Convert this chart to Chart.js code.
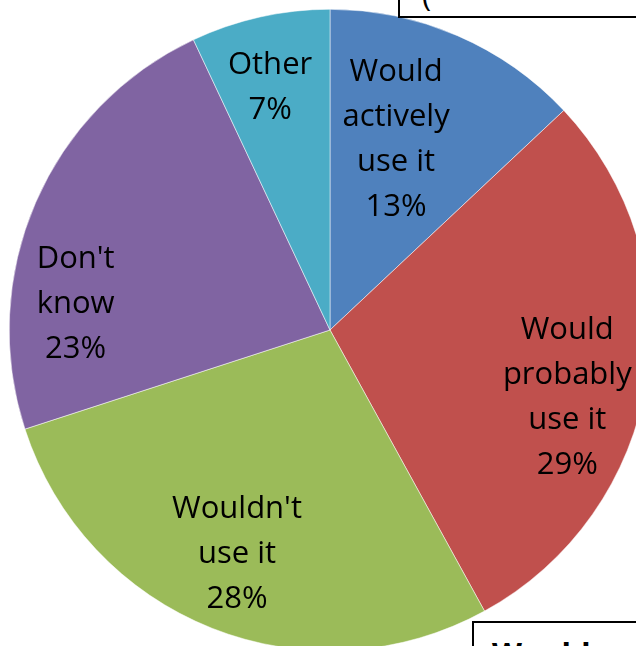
<!DOCTYPE html>
<html>
<head>
<meta charset="utf-8">
<script src="https://cdn.jsdelivr.net/npm/chart.js@4.4.1/dist/chart.umd.min.js"></script>
<style>
  html, body { margin: 0; padding: 0; background: #fff; }
  body { width: 636px; height: 646px; overflow: hidden; position: relative; font-family: "Open Sans", sans-serif; }
  #pie { position: absolute; left: 9px; top: 9px; }
  .box { position: absolute; background: #fff; border: 2px solid #000; box-sizing: border-box; overflow: hidden; z-index: 2; }
  #topBox { left: 398px; top: -50px; width: 260px; height: 68px; }
  #topBox span { position: absolute; left: 22px; top: 27px; font-size: 31px; line-height: 1; }
  #bottomBox { left: 472px; top: 621px; width: 200px; height: 80px; }
  #bottomBox span { position: absolute; left: 18px; top: 15px; font-size: 31px; font-weight: bold; line-height: 1; }
</style>
</head>
<body>
<canvas id="pie" width="642" height="642"></canvas>
<div class="box" id="topBox"><span>(</span></div>
<div class="box" id="bottomBox"><span>Would</span></div>
<script>
const categories = [
  ['Would', 'actively', 'use it'],
  ['Would', 'probably', 'use it'],
  ["Wouldn't", 'use it'],
  ["Don't", 'know'],
  ['Other']
];
const shares = [13, 29, 28, 23, 7];
const sliceColors = ['#4F81BD', '#C0504D', '#9BBB59', '#8064A2', '#4BACC6'];

// where each label sits: angle from top (deg, clockwise) and distance from centre
const labelSpots = [
  { a: 18.9, r: 204 },
  { a: 105.3, r: 246 },
  { a: 202.8, r: 240 },
  { a: 276.5, r: 256 },
  { a: 346.3, r: 253 }
];

const sliceLabels = {
  id: 'sliceLabels',
  afterDatasetsDraw(chart) {
    const ctx = chart.ctx;
    const arcs = chart.getDatasetMeta(0).data;
    ctx.save();
    ctx.fillStyle = '#000';
    ctx.font = '31px "Open Sans"';
    ctx.textAlign = 'center';
    ctx.textBaseline = 'middle';
    arcs.forEach((arc, i) => {
      const spot = labelSpots[i];
      const rad = spot.a * Math.PI / 180;
      const cx = arc.x + spot.r * Math.sin(rad);
      const cy = arc.y - spot.r * Math.cos(rad) + 3;
      const lines = categories[i].concat([shares[i] + '%']);
      const lh = 45;
      const top = cy - (lines.length - 1) * lh / 2;
      lines.forEach((t, k) => ctx.fillText(t, cx, top + k * lh));
    });
    ctx.restore();
  }
};

new Chart(document.getElementById('pie'), {
  type: 'pie',
  data: {
    labels: categories.map(c => c.join(' ')),
    datasets: [{
      data: shares,
      backgroundColor: sliceColors,
      borderColor: '#fff',
      borderWidth: 0.5
    }]
  },
  options: {
    responsive: false,
    animation: false,
    layout: { padding: 0 },
    plugins: {
      legend: { display: false },
      tooltip: { enabled: false }
    }
  },
  plugins: [sliceLabels]
});
</script>
</body>
</html>
